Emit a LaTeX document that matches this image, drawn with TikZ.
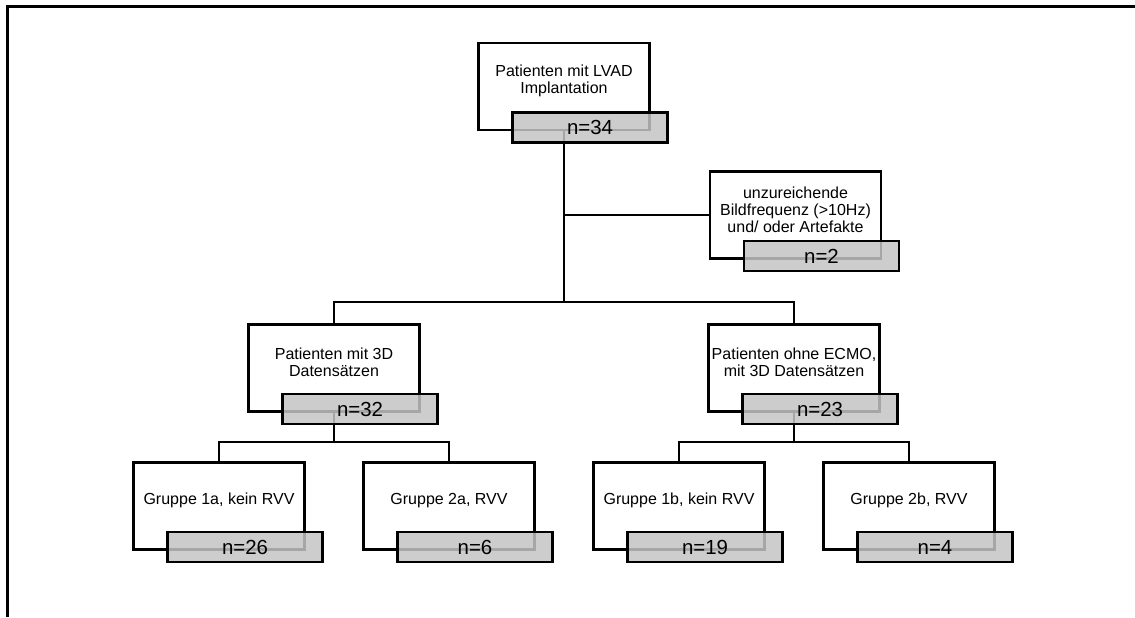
\documentclass[tikz,border=0pt]{standalone}
\usepackage{fontspec}
\setmainfont{Liberation Sans}
\usepackage{xcolor}
\usetikzlibrary{positioning,calc}
\definecolor{nfill}{RGB}{196,196,196}

\begin{document}
\begin{tikzpicture}[x=0.5pt, y=-0.5pt,
    wbox/.style={draw, line width=1.3pt, fill=white,
                 minimum width=85.5pt, minimum height=43.5pt, inner sep=0},
    wtxt/.style={align=center, yshift=2.75pt, font=\fontsize{8}{8.4}\selectfont},
    nbox/.style={draw, line width=1.3pt, fill=nfill, fill opacity=0.85, text opacity=1,
                 minimum width=77.5pt, minimum height=15pt, inner sep=0,
                 anchor=north west, font=\fontsize{10.2}{12}\selectfont},
    conn/.style={line width=1.4pt},
    frame/.style={line width=1.5pt}]

    \useasboundingbox (0,0) rectangle (1135,617);
    \draw[frame] (7,617) -- (7,6) -- (1135,6);

    % white boxes
    \node[wbox, label={[wtxt]center:Patienten mit LVAD\\Implantation}] (p0) at (564,86.5) {};
    \node[wbox, label={[wtxt]center:unzureichende\\Bildfrequenz (>10Hz)\\und/ oder Artefakte}] (ex) at (795.5,215) {};
    \node[wbox, label={[wtxt]center:Patienten mit 3D\\Datensätzen}] (m1) at (334,368) {};
    \node[wbox, label={[wtxt]center:Patienten ohne ECMO,\\mit 3D Datensätzen}] (m2) at (794,368) {};
    \node[wbox, label={[wtxt]center:Gruppe 1a, kein RVV}] (g1) at (219,506) {};
    \node[wbox, label={[wtxt]center:Gruppe 2a, RVV}] (g2) at (449,506) {};
    \node[wbox, label={[wtxt]center:Gruppe 1b, kein RVV}] (g3) at (679,506) {};
    \node[wbox, label={[wtxt]center:Gruppe 2b, RVV}] (g4) at (909,506) {};

    % junctions
    \coordinate (j0) at (564,302);
    \coordinate (j1) at (334,442);
    \coordinate (j2) at (794,442);

    \draw[conn] (p0.south) -- (j0);
    \draw[conn] (p0.south |- ex.west) -- (ex.west);
    \draw[conn] (m1.north) |- (j0) -| (m2.north);
    \draw[conn] (m1.south) -- (j1);
    \draw[conn] (m2.south) -- (j2);
    \draw[conn] (g1.north) |- (j1) -| (g2.north);
    \draw[conn] (g3.north) |- (j2) -| (g4.north);

    % counts
    \node[nbox] (n0) at ([xshift=17pt,yshift=10pt]p0.south west) {n=34};
    \node[nbox] (n1) at ([xshift=17pt,yshift=10pt]ex.south west) {n=2};
    \node[nbox] (n2) at ([xshift=17pt,yshift=10pt]m1.south west) {n=32};
    \node[nbox] (n3) at ([xshift=17pt,yshift=10pt]m2.south west) {n=23};
    \node[nbox] (n4) at ([xshift=17pt,yshift=10pt]g1.south west) {n=26};
    \node[nbox] (n5) at ([xshift=17pt,yshift=10pt]g2.south west) {n=6};
    \node[nbox] (n6) at ([xshift=17pt,yshift=10pt]g3.south west) {n=19};
    \node[nbox] (n7) at ([xshift=17pt,yshift=10pt]g4.south west) {n=4};
\end{tikzpicture}
\end{document}
